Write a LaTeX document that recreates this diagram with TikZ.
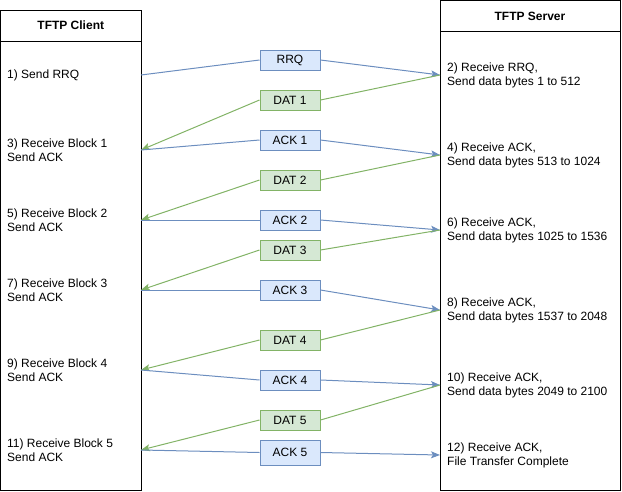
\documentclass[tikz,border=0pt]{standalone}
\usepackage{fontspec}
\setmainfont{Liberation Sans}
\usetikzlibrary{arrows.meta}
\definecolor{ackline}{HTML}{6C8EBF}
\definecolor{ackfill}{HTML}{DAE8FC}
\definecolor{datline}{HTML}{82B366}
\definecolor{datfill}{HTML}{D5E8D4}
\tikzstyle{lane} = [draw=black, line width=1pt]
\tikzstyle{title} = [font=\bfseries\fontsize{12}{14}\selectfont]
\tikzstyle{ackbox} = [rectangle, minimum width=60pt, minimum height=20pt, text centered, draw=ackline, fill=ackfill, line width=1pt, font=\fontsize{12}{14}\selectfont]
\tikzstyle{datbox} = [rectangle, minimum width=60pt, minimum height=20pt, text centered, draw=datline, fill=datfill, line width=1pt, font=\fontsize{12}{14}\selectfont]
\tikzstyle{event} = [anchor=west, align=left, inner sep=0pt, font=\fontsize{12}{14}\selectfont]
\tikzstyle{ackline} = [draw=ackline, line width=1pt]
\tikzstyle{datline} = [draw=datline, line width=1pt]
\tikzstyle{ackarrow} = [ackline, -{Stealth[length=9pt,width=7pt,inset=2pt]}, ackline]
\tikzstyle{datarrow} = [datline, -{Stealth[length=9pt,width=7pt,inset=2pt]}, datline]

\begin{document}
\begin{tikzpicture}[x=1pt, y=-1pt]
\useasboundingbox (0,0) rectangle (622,491);

% swimlanes
\draw [lane] (0.5,10) rectangle (141,490);
\draw [lane] (0.5,41) -- (141,41);
\node (client) [title] at (70.75,25.5) {TFTP Client};
\draw [lane] (440,0.5) rectangle (620,490);
\draw [lane] (440,31) -- (620,31);
\node (server) [title] at (530,16) {TFTP Server};

% client side
\coordinate (c1) at (141,75);
\coordinate (c3) at (141,150);
\coordinate (c5) at (141,220);
\coordinate (c7) at (141,290);
\coordinate (c9) at (141,370);
\coordinate (c11) at (141,450);
\node (cl1) [event] at (7,75) {1) Send RRQ};
\node (cl3) [event] at (7,150) {3) Receive Block 1\\Send ACK};
\node (cl5) [event] at (7,220) {5) Receive Block 2\\Send ACK};
\node (cl7) [event] at (7,290) {7) Receive Block 3\\Send ACK};
\node (cl9) [event] at (7,370) {9) Receive Block 4\\Send ACK};
\node (cl11) [event] at (7,450) {11) Receive Block 5\\Send ACK};

% server side
\coordinate (s2) at (440,75);
\coordinate (s4) at (440,155);
\coordinate (s6) at (440,230);
\coordinate (s8) at (440,310);
\coordinate (s10) at (440,385);
\coordinate (s12) at (440,455);
\node (sv2) [event] at (447,75) {2) Receive RRQ,\\Send data bytes 1 to 512};
\node (sv4) [event] at (447,155) {4) Receive ACK,\\Send data bytes 513 to 1024};
\node (sv6) [event] at (447,230) {6) Receive ACK,\\Send data bytes 1025 to 1536};
\node (sv8) [event] at (447,310) {8) Receive ACK,\\Send data bytes 1537 to 2048};
\node (sv10) [event] at (447,385) {10) Receive ACK,\\Send data bytes 2049 to 2100};
\node (sv12) [event] at (447,455) {12) Receive ACK,\\File Transfer Complete};

% packets
\node (rrq) [ackbox] at (290,60) {RRQ};
\node (dat1) [datbox] at (290,100) {DAT 1};
\node (ack1) [ackbox] at (290,140) {ACK 1};
\node (dat2) [datbox] at (290,180) {DAT 2};
\node (ack2) [ackbox] at (290,220) {ACK 2};
\node (dat3) [datbox] at (290,250) {DAT 3};
\node (ack3) [ackbox] at (290,290) {ACK 3};
\node (dat4) [datbox] at (290,340) {DAT 4};
\node (ack4) [ackbox] at (290,380) {ACK 4};
\node (dat5) [datbox] at (290,420) {DAT 5};
\node (ack5) [ackbox, minimum height=25pt] at (290,452.5) {ACK 5};

\draw [ackline] (c1) -- (rrq.west);
\draw [ackarrow] (rrq.east) -- (s2);
\draw [datline] (s2) -- (dat1.east);
\draw [datarrow] (dat1.west) -- (c3);
\draw [ackline] (c3) -- (ack1.west);
\draw [ackarrow] (ack1.east) -- (s4);
\draw [datline] (s4) -- (dat2.east);
\draw [datarrow] (dat2.west) -- (c5);
\draw [ackline] (c5) -- (ack2.west);
\draw [ackarrow] (ack2.east) -- (s6);
\draw [datline] (s6) -- (dat3.east);
\draw [datarrow] (dat3.west) -- (c7);
\draw [ackline] (c7) -- (ack3.west);
\draw [ackarrow] (ack3.east) -- (s8);
\draw [datline] (s8) -- (dat4.east);
\draw [datarrow] (dat4.west) -- (c9);
\draw [ackline] (c9) -- (ack4.west);
\draw [ackarrow] (ack4.east) -- (s10);
\draw [datline] (s10) -- (dat5.east);
\draw [datarrow] (dat5.west) -- (c11);
\draw [ackline] (c11) -- (ack5.west);
\draw [ackarrow] (ack5.east) -- (s12);

\end{tikzpicture}
\end{document}
